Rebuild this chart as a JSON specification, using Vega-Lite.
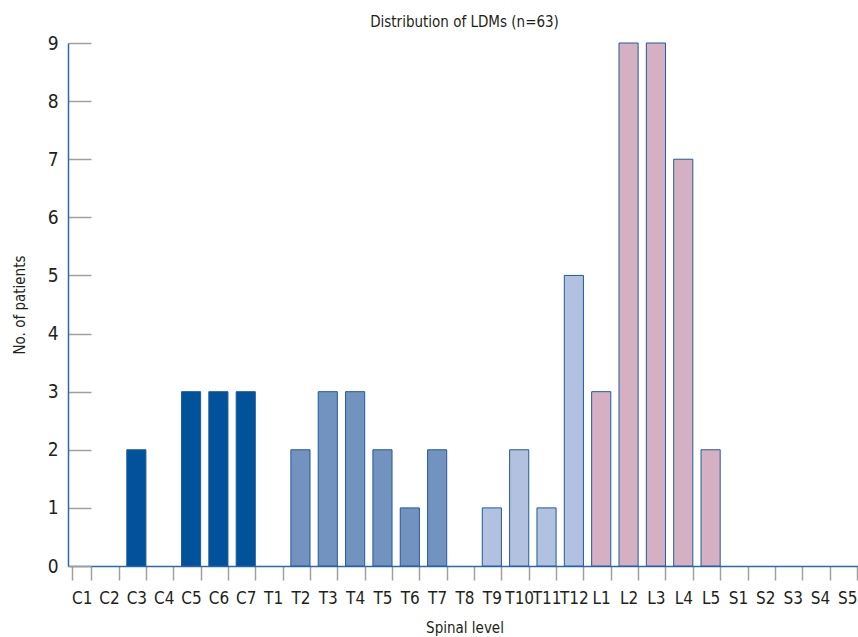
{
  "$schema": "https://vega.github.io/schema/vega-lite/v6.json",
  "autosize": "none",
  "width": 793,
  "height": 523,
  "padding": {"left": 68, "top": 43, "right": 0, "bottom": 71},
  "background": "white",
  "config": {
    "view": {"stroke": null},
    "font": "DejaVu Sans Condensed, Roboto Condensed, Roboto, sans-serif"
  },
  "title": {
    "text": "Distribution of LDMs (n=63)",
    "font": "DejaVu Sans Condensed, Roboto Condensed, Roboto, sans-serif",
    "fontSize": 15,
    "fontWeight": "normal",
    "color": "#231f20",
    "anchor": "middle",
    "offset": 4
  },
  "data": {
    "values": [
      {"level": "C1", "n": 0, "region": "C"},
      {"level": "C2", "n": 0, "region": "C"},
      {"level": "C3", "n": 2, "region": "C"},
      {"level": "C4", "n": 0, "region": "C"},
      {"level": "C5", "n": 3, "region": "C"},
      {"level": "C6", "n": 3, "region": "C"},
      {"level": "C7", "n": 3, "region": "C"},
      {"level": "T1", "n": 0, "region": "T upper"},
      {"level": "T2", "n": 2, "region": "T upper"},
      {"level": "T3", "n": 3, "region": "T upper"},
      {"level": "T4", "n": 3, "region": "T upper"},
      {"level": "T5", "n": 2, "region": "T upper"},
      {"level": "T6", "n": 1, "region": "T upper"},
      {"level": "T7", "n": 2, "region": "T upper"},
      {"level": "T8", "n": 0, "region": "T lower"},
      {"level": "T9", "n": 1, "region": "T lower"},
      {"level": "T10", "n": 2, "region": "T lower"},
      {"level": "T11", "n": 1, "region": "T lower"},
      {"level": "T12", "n": 5, "region": "T lower"},
      {"level": "L1", "n": 3, "region": "L"},
      {"level": "L2", "n": 9, "region": "L"},
      {"level": "L3", "n": 9, "region": "L"},
      {"level": "L4", "n": 7, "region": "L"},
      {"level": "L5", "n": 2, "region": "L"},
      {"level": "S1", "n": 0, "region": "S"},
      {"level": "S2", "n": 0, "region": "S"},
      {"level": "S3", "n": 0, "region": "S"},
      {"level": "S4", "n": 0, "region": "S"},
      {"level": "S5", "n": 0, "region": "S"}
    ]
  },
  "transform": [{"filter": "datum.n > 0"}],
  "mark": {"type": "bar", "stroke": "#1f5c9e", "strokeWidth": 1},
  "encoding": {
    "x": {
      "field": "level",
      "type": "nominal",
      "sort": null,
      "scale": {
        "domain": ["C1","C2","C3","C4","C5","C6","C7","T1","T2","T3","T4","T5","T6","T7","T8","T9","T10","T11","T12","L1","L2","L3","L4","L5","S1","S2","S3","S4","S5"],
        "paddingInner": 0.3, "paddingOuter": 0.15
      },
      "axis": {
        "title": "Spinal level",
        "titleFontSize": 15,
        "titleFontWeight": "normal",
        "titleColor": "#231f20",
        "titlePadding": 14,
        "labelAngle": 0,
        "labelFontSize": 17,
        "labelColor": "#231f20",
        "labelPadding": 10,
        "tickBand": "extent",
        "tickSize": 14,
        "tickColor": "#a0a0a0",
        "tickWidth": 1.5,
        "domainColor": "#2d6aa8",
        "domainWidth": 1.5
      }
    },
    "y": {
      "field": "n",
      "type": "quantitative",
      "scale": {"domain": [0, 9], "nice": false},
      "axis": {
        "title": "No. of patients",
        "titleFontSize": 15,
        "titleFontWeight": "normal",
        "titleColor": "#231f20",
        "titlePadding": 20,
        "values": [0, 1, 2, 3, 4, 5, 6, 7, 8, 9],
        "grid": false,
        "labelFontSize": 19,
        "labelColor": "#231f20",
        "tickSize": -23,
        "labelPadding": 33,
        "tickColor": "#a0a0a0",
        "tickWidth": 1.5,
        "domainColor": "#2d6aa8",
        "domainWidth": 1.5
      }
    },
    "color": {
      "field": "region",
      "type": "nominal",
      "scale": {
        "domain": ["C", "T upper", "T lower", "L", "S"],
        "range": ["#00529a", "#7292c0", "#b1c1df", "#d5b0c3", "#d5b0c3"]
      },
      "legend": null
    }
  }
}
